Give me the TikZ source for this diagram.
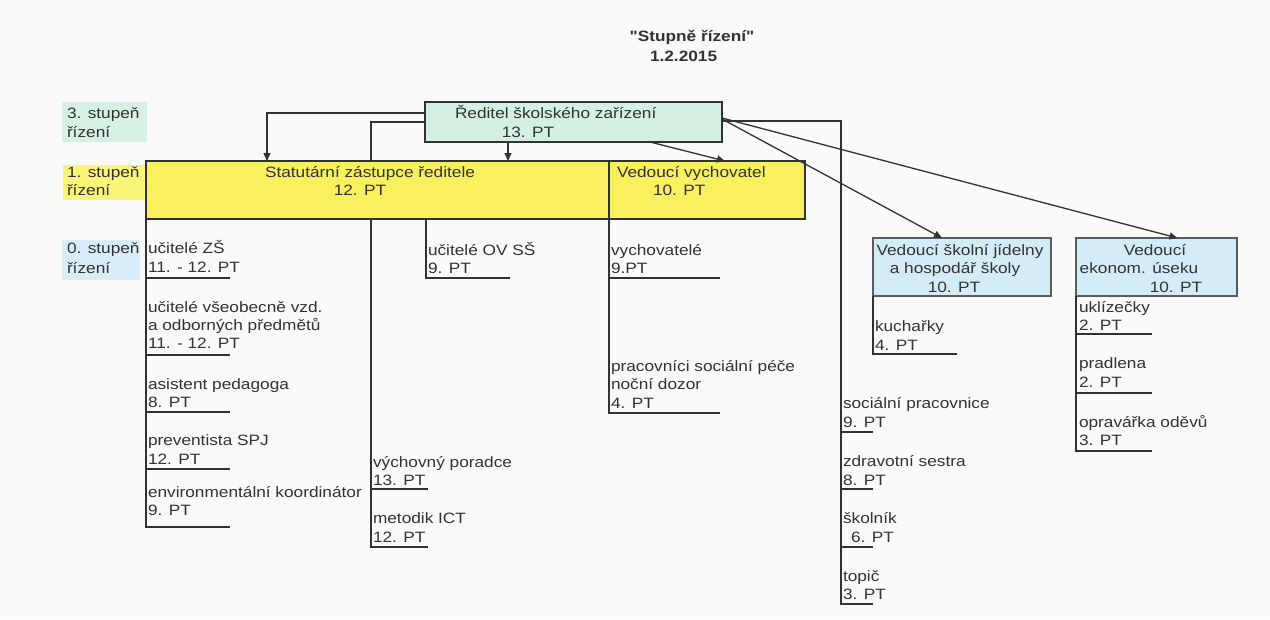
\documentclass[tikz,border=0pt]{standalone}
\usepackage{fontspec}
\setmainfont{Liberation Sans}[FakeStretch=1.15]
\newfontfamily\qfont{Liberation Sans}[FakeStretch=1.15,Ligatures=TeXOff]
\usetikzlibrary{arrows.meta}
\definecolor{ink}{RGB}{50,50,50}
\definecolor{pagebg}{RGB}{250,250,250}
\definecolor{topgreen}{RGB}{212,240,224}
\definecolor{lvlgreen}{RGB}{214,240,226}
\definecolor{boxyellow}{RGB}{248,240,95}
\definecolor{lvlyellow}{RGB}{250,245,120}
\definecolor{boxblue}{RGB}{212,236,246}
\definecolor{lvlblue}{RGB}{216,237,247}
\begin{document}
\begin{tikzpicture}[x=1pt,y=-1pt,
  font=\fontsize{15}{18}\selectfont,
  every node/.style={inner sep=0pt,outer sep=0pt,text=ink},
  txt/.style={anchor=base west},
  ctxt/.style={anchor=base},
  conn/.style={draw=ink,line width=1.3pt},
  arr/.style={conn,-{Triangle[length=8pt,width=7pt]}},
  mainbox/.style={draw=ink,line width=2.6pt},
  subbox/.style={draw=ink!80,line width=1.6pt,fill=boxblue,minimum width=#1,minimum height=58},
]
\fill[pagebg] (0,0) rectangle (1270,619);
\useasboundingbox (0,0) rectangle (1270,619);

% title
\node[ctxt,font=\fontsize{15}{18}\selectfont\bfseries] (title) at (692,41) {{\qfont\bfseries"}Stupně řízení{\qfont\bfseries"}};
\node[txt,font=\fontsize{15}{18}\selectfont\bfseries] (date) at (650,61) {1.2.2015};

% level labels
\fill[lvlgreen] (62,102) rectangle (147,142);
\node[txt] (l3a) at (67,118) {3. stupeň};
\node[txt] (l3b) at (67,137) {řízení};
\fill[lvlyellow] (63,165) rectangle (146,200);
\node[txt] (l1a) at (67,177) {1. stupeň};
\node[txt] (l1b) at (67,195) {řízení};
\fill[lvlblue] (62,240) rectangle (140,280);
\node[txt] (l0a) at (67,253) {0. stupeň};
\node[txt] (l0b) at (67,273) {řízení};

% boxes
\node[mainbox,fill=topgreen,minimum width=297,minimum height=40] (top) at (573.5,122) {};
\node[mainbox,fill=boxyellow,minimum width=659,minimum height=58] (yel) at (475.5,190) {};
\node[subbox=178] (b1) at (962,267) {};
\node[subbox=161] (b2) at (1156.5,267) {};

% helper coordinates
\coordinate (xA) at (267,0);
\coordinate (xM) at (371,0);
\coordinate (xC) at (508,0);
\coordinate (xD0) at (650,0);
\coordinate (xD1) at (725,0);
\coordinate (xOV) at (426,0);
\coordinate (xV) at (609,0);
\coordinate (lU1) at (230,278);
\coordinate (lU2) at (230,355);
\coordinate (lU3) at (230,412);
\coordinate (lU4) at (230,469);
\coordinate (lU5) at (230,527);
\coordinate (mU1) at (428,489);
\coordinate (mU2) at (428,547);
\coordinate (ovU) at (510,278);
\coordinate (vU1) at (720,278);
\coordinate (vU2) at (720,413);
\coordinate (rB) at (841,604);
\coordinate (rU1) at (873,432);
\coordinate (rU2) at (873,489);
\coordinate (rU3) at (873,547);
\coordinate (rU4) at (873,604);
\coordinate (kU) at (957,354);
\coordinate (eU1) at (1152,334);
\coordinate (eU2) at (1152,393);
\coordinate (eU3) at (1152,451);

% divider in yellow box
\draw[conn] (yel.north -| xV) -- (yel.south -| xV);

% connectors from the director
\draw[arr] ([yshift=9pt]top.west) -| (yel.north -| xA);
\draw[conn] (top.west) -| (yel.north -| xM);
\draw[arr] (top.south -| xC) -- (yel.north -| xC);
\draw[arr] (top.south -| xD0) -- (yel.north -| xD1);
\draw[conn] ([yshift=1pt]top.east) -| (rB) -- (rU4);
\draw[arr] ([yshift=3pt]top.east) -- ([xshift=-20pt]b1.north);
\draw[arr] ([yshift=4pt]top.east) -- ([xshift=21pt]b2.north);

% left column
\draw[conn] (yel.south west) |- (lU5);
\draw[conn] (yel.south west |- lU1) -- (lU1);
\draw[conn] (yel.south west |- lU2) -- (lU2);
\draw[conn] (yel.south west |- lU3) -- (lU3);
\draw[conn] (yel.south west |- lU4) -- (lU4);

% middle column
\draw[conn] (yel.south -| xM) |- (mU2);
\draw[conn] (xM |- mU1) -- (mU1);

% OV column
\draw[conn] (yel.south -| xOV) |- (ovU);

% vychovatel column
\draw[conn] (yel.south -| xV) |- (vU2);
\draw[conn] (xV |- vU1) -- (vU1);

% right column
\draw[conn] (rB |- rU1) -- (rU1);
\draw[conn] (rB |- rU2) -- (rU2);
\draw[conn] (rB |- rU3) -- (rU3);

% under b1, b2
\draw[conn] (b1.south west) |- (kU);
\draw[conn] (b2.south west) |- (eU3);
\draw[conn] (b2.south west |- eU1) -- (eU1);
\draw[conn] (b2.south west |- eU2) -- (eU2);

% box texts
\node[txt] (ra) at (455,118) {Ředitel školského zařízení};
\node[ctxt] (rb) at (528,137) {13. PT};
\node[ctxt] (sa) at (370,177) {Statutární zástupce ředitele};
\node[ctxt] (sb) at (360,195) {12. PT};
\node[txt] (va) at (617,177) {Vedoucí vychovatel};
\node[txt] (vb) at (653,195) {10. PT};
\node[ctxt] (b1a) at (960,255) {Vedoucí školní jídelny};
\node[ctxt] (b1b) at (955,273) {a hospodář školy};
\node[ctxt] (b1c) at (954,292) {10. PT};
\node[ctxt] (b2a) at (1155,255) {Vedoucí};
\node[ctxt] (b2b) at (1139,273) {ekonom. úseku};
\node[ctxt] (b2c) at (1176,292) {10. PT};

% left column texts
\node[txt] (i1a) at (148,253) {učitelé ZŠ};
\node[txt] (i1b) at (148,272) {11. - 12. PT};
\node[txt] (i2a) at (148,312) {učitelé všeobecně vzd.};
\node[txt] (i2b) at (148,330) {a odborných předmětů};
\node[txt] (i2c) at (148,348) {11. - 12. PT};
\node[txt] (i3a) at (148,389) {asistent pedagoga};
\node[txt] (i3b) at (148,407) {8. PT};
\node[txt] (i4a) at (148,445) {preventista SPJ};
\node[txt] (i4b) at (148,464) {12. PT};
\node[txt] (i5a) at (148,497) {environmentální koordinátor};
\node[txt] (i5b) at (148,515) {9. PT};

% middle column texts
\node[txt] (m1a) at (373,467) {výchovný poradce};
\node[txt] (m1b) at (373,485) {13. PT};
\node[txt] (m2a) at (373,523) {metodik ICT};
\node[txt] (m2b) at (373,542) {12. PT};

% OV
\node[txt] (o1a) at (428,255) {učitelé OV SŠ};
\node[txt] (o1b) at (428,273) {9. PT};

% vychovatel column
\node[txt] (v1a) at (611,255) {vychovatelé};
\node[txt] (v1b) at (611,273) {9.PT};
\node[txt] (v2a) at (611,371) {pracovníci sociální péče};
\node[txt] (v2b) at (611,389) {noční dozor};
\node[txt] (v2c) at (611,408) {4. PT};

% right column
\node[txt] (r1a) at (843,408) {sociální pracovnice};
\node[txt] (r1b) at (843,427) {9. PT};
\node[txt] (r2a) at (843,466) {zdravotní sestra};
\node[txt] (r2b) at (843,485) {8. PT};
\node[txt] (r3a) at (843,523) {školník};
\node[txt] (r3b) at (851,542) {6. PT};
\node[txt] (r4a) at (843,581) {topič};
\node[txt] (r4b) at (843,599) {3. PT};

% under b1
\node[txt] (k1a) at (875,331) {kuchařky};
\node[txt] (k1b) at (875,350) {4. PT};

% under b2
\node[txt] (e1a) at (1079,312) {uklízečky};
\node[txt] (e1b) at (1079,330) {2. PT};
\node[txt] (e2a) at (1079,368) {pradlena};
\node[txt] (e2b) at (1079,387) {2. PT};
\node[txt] (e3a) at (1079,427) {opravářka oděvů};
\node[txt] (e3b) at (1079,445) {3. PT};
\end{tikzpicture}
\end{document}
